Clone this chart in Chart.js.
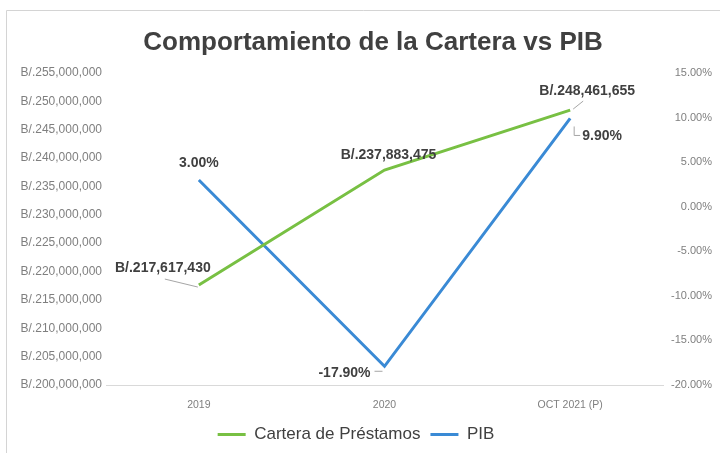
<!DOCTYPE html>
<html>
<head>
<meta charset="utf-8">
<script src="https://cdn.jsdelivr.net/npm/chart.js@4"></script>
<style>
    html, body { margin: 0; padding: 0; background: #fff; }
    #wrap { width: 720px; height: 453px; }
</style>
</head>
<body>
<div id="wrap"><canvas id="chart" width="720" height="453"></canvas></div>
<script>
// Data
const categories = ['2019', '2020', 'OCT 2021 (P)'];
const cartera = [217617430, 237883475, 248461655];
const pib = [3.00, -17.90, 9.90];
const carteraTicks = { min: 200000000, max: 255000000, step: 5000000 };
const pibTicks = { min: -20, max: 15, step: 5 };
const chartTitle = 'Comportamiento de la Cartera vs PIB';

const GREEN = '#78c043';
const BLUE = '#3a8ad5';
const TEXT = '#404040';
const FONT = '"Liberation Sans", Arial, sans-serif';

// label placement (offset from point) + leader lines, per dataset
const labelPos = [
    [{ dx: -36, dy: -17, lead: [[-34, -6], [-1, 2]] }, { dx: 4, dy: -15 }, { dx: 17, dy: -19, lead: [[13, -9], [3, -1]] }],
    [{ dx: 0, dy: -17 }, { dx: -40, dy: 7, lead: [[-10, 5], [-2, 5]] }, { dx: 32, dy: 18, lead: [[4, 8], [4, 17], [10, 17]] }]
];

const fmtMoney = v => 'B/.' + Number(v).toLocaleString('en-US');
const fmtPct = v => Number(v).toFixed(2) + '%';

// white background, thin frame and title (title sits a bit right of canvas centre, like the original)
const frame = {
    id: 'frame',
    beforeDraw(chart) {
        const c = chart.ctx;
        c.save();
        c.fillStyle = '#fff';
        c.fillRect(0, 0, chart.width, chart.height);
        c.strokeStyle = '#d4d4d4';
        c.lineWidth = 1;
        c.beginPath();
        c.moveTo(6.5, chart.height);
        c.lineTo(6.5, 10.5);
        c.lineTo(chart.width, 10.5);
        c.stroke();
        c.fillStyle = TEXT;
        c.font = 'bold 26px ' + FONT;
        c.textAlign = 'center';
        c.textBaseline = 'middle';
        c.fillText(chartTitle, 373, 43);
        c.restore();
    }
};

const dataLabels = {
    id: 'dataLabels',
    afterDatasetsDraw(chart) {
        const c = chart.ctx;
        c.save();
        c.font = 'bold 14px ' + FONT;
        c.textAlign = 'center';
        c.textBaseline = 'middle';
        chart.data.datasets.forEach((ds, di) => {
            const meta = chart.getDatasetMeta(di);
            meta.data.forEach((pt, i) => {
                const p = labelPos[di][i];
                if (p.lead) {
                    c.strokeStyle = '#a6a6a6';
                    c.lineWidth = 1;
                    c.beginPath();
                    p.lead.forEach(([lx, ly], k) => {
                        if (k === 0) c.moveTo(pt.x + lx, pt.y + ly);
                        else c.lineTo(pt.x + lx, pt.y + ly);
                    });
                    c.stroke();
                }
                c.fillStyle = TEXT;
                const txt = di === 0 ? fmtMoney(ds.data[i]) : fmtPct(ds.data[i]);
                c.fillText(txt, pt.x + p.dx, pt.y + p.dy);
            });
        });
        c.restore();
    }
};

new Chart(document.getElementById('chart'), {
    type: 'line',
    data: {
        labels: categories,
        datasets: [{
            label: 'Cartera de Préstamos',
            data: cartera,
            yAxisID: 'y',
            borderColor: GREEN,
            backgroundColor: GREEN,
            borderWidth: 3,
            pointRadius: 0,
            tension: 0
        }, {
            label: 'PIB',
            data: pib,
            yAxisID: 'y1',
            borderColor: BLUE,
            backgroundColor: BLUE,
            borderWidth: 3,
            pointRadius: 0,
            tension: 0
        }]
    },
    options: {
        responsive: false,
        animation: false,
        layout: { padding: { left: 0, right: 8, top: 73, bottom: 0 } },
        plugins: {
            title: { display: false },
            legend: {
                position: 'bottom',
                labels: {
                    color: TEXT,
                    font: { family: FONT, size: 17 },
                    boxWidth: 28,
                    boxHeight: 3,
                    padding: 10,
                    generateLabels: chart => Chart.defaults.plugins.legend.labels
                        .generateLabels(chart).map(l => ({ ...l, lineWidth: 0 }))
                }
            },
            tooltip: { enabled: false }
        },
        scales: {
            x: {
                offset: true,
                grid: { display: false, drawTicks: false },
                border: { display: true, color: '#d9d9d9', width: 1 },
                ticks: { color: '#7f7f7f', font: { family: FONT, size: 10.5 }, padding: 14, maxRotation: 0 },
                afterFit: s => { s.height = 31; }
            },
            y: {
                position: 'left',
                min: carteraTicks.min,
                max: carteraTicks.max,
                grid: { display: false, drawTicks: false },
                border: { display: false },
                ticks: {
                    stepSize: carteraTicks.step,
                    color: '#7f7f7f',
                    font: { family: FONT, size: 12 },
                    padding: 4,
                    callback: v => fmtMoney(v)
                },
                afterFit: s => { s.width = 106; }
            },
            y1: {
                position: 'right',
                min: pibTicks.min,
                max: pibTicks.max,
                grid: { display: false, drawTicks: false },
                border: { display: false },
                ticks: {
                    stepSize: pibTicks.step,
                    color: '#7f7f7f',
                    font: { family: FONT, size: 11 },
                    crossAlign: 'far',
                    callback: v => fmtPct(v)
                },
                afterFit: s => { s.width = 49; }
            }
        }
    },
    plugins: [frame, dataLabels]
});
</script>
</body>
</html>
